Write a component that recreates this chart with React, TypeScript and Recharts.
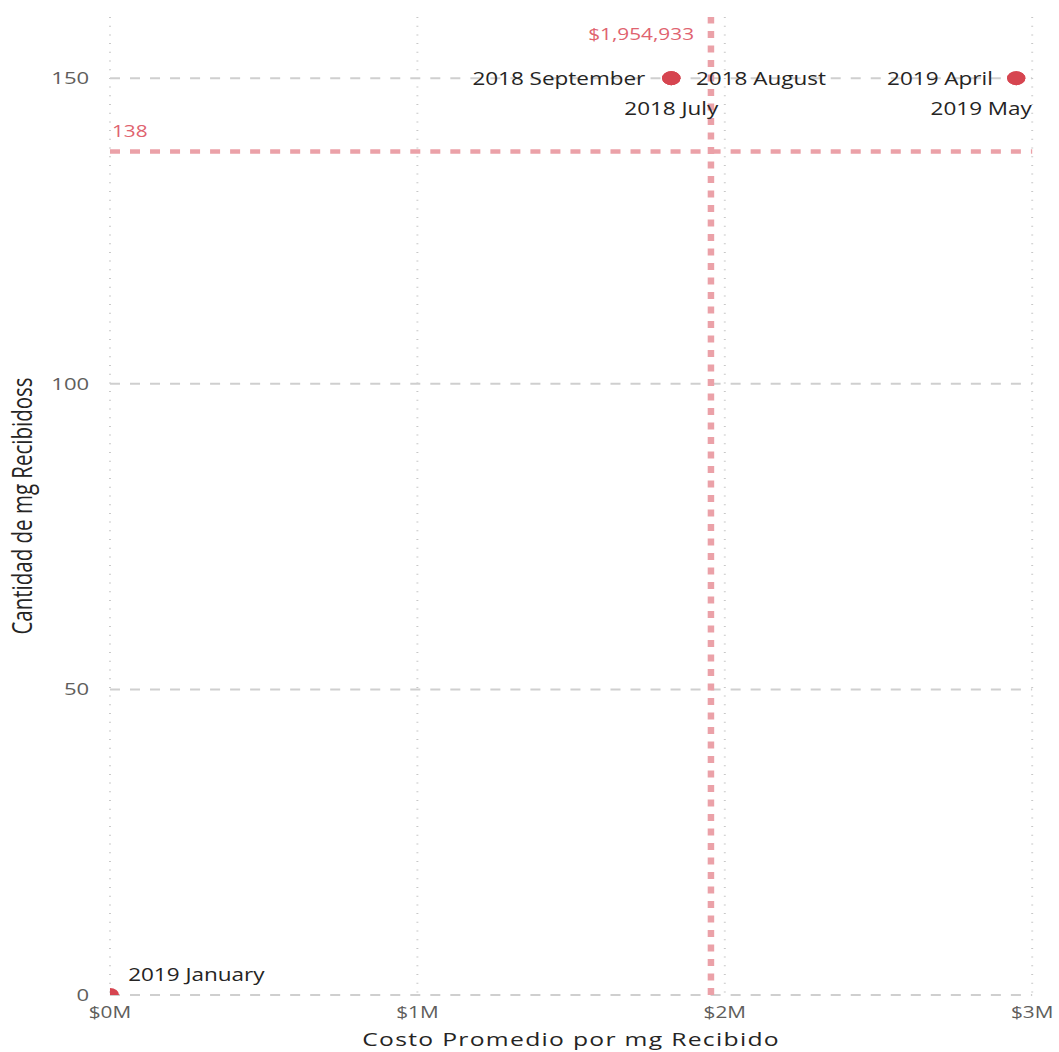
import React from "react";
import {
  ScatterChart,
  Scatter,
  XAxis,
  YAxis,
  CartesianGrid,
  ReferenceLine,
} from "recharts";

const MONTHS = ["2018 July", "2018 August", "2018 September", "2019 January", "2019 April", "2019 May"];
const AVG_COST = [1826000, 1826000, 1826000, 0, 2948000, 2948000];
const QTY_RECEIVED = [150, 150, 150, 0, 150, 150];

const X_TICKS = [0, 1000000, 2000000, 3000000];
const Y_TICKS = [0, 50, 100, 150];

const AVG_COST_LINE = 1954933;
const AVG_QTY_LINE = 138;

// where each month's data label sits around its dot
const LABEL_PLACE: Record<string, { anchor: "start" | "middle" | "end"; dx: number; dy: number }> = {
  "2018 July": { anchor: "middle", dx: 0, dy: 30 },
  "2018 August": { anchor: "start", dx: 19, dy: 0 },
  "2018 September": { anchor: "end", dx: -20, dy: 0 },
  "2019 January": { anchor: "start", dx: 14, dy: -20 },
  "2019 April": { anchor: "end", dx: -18, dy: 0 },
  "2019 May": { anchor: "end", dx: 12, dy: 30 },
};

const points = MONTHS.map((m, i) => ({ month: m, cost: AVG_COST[i], qty: QTY_RECEIVED[i] }));

const FONT = "'Open Sans', sans-serif";
const RED = "#D64550";
const REF_RED = "#EBA1A8";
const REF_TEXT = "#E0636F";

// the source screenshot is stretched horizontally
const STRETCH = 1.3;
const W = 815;
const H = 1052;

function renderPoint(props: any) {
  const { cx, cy, payload } = props;
  const p = LABEL_PLACE[payload.month];
  return (
    <g>
      <circle cx={cx} cy={cy} r={7} fill={RED} />
      <text
        x={cx + p.dx}
        y={cy + p.dy}
        textAnchor={p.anchor}
        dominantBaseline="central"
        fontSize={17.3}
        fontFamily={FONT}
        fill="#252423"
      >
        {payload.month}
      </text>
    </g>
  );
}

function CostLineLabel(props: any) {
  const { viewBox } = props;
  return (
    <text
      x={viewBox.x - 13}
      y={viewBox.y + 17}
      textAnchor="end"
      dominantBaseline="central"
      fontSize={16}
      fontFamily={FONT}
      fill={REF_TEXT}
    >
      ${AVG_COST_LINE.toLocaleString("en-US")}
    </text>
  );
}

function QtyLineLabel(props: any) {
  const { viewBox } = props;
  return (
    <text
      x={viewBox.x + 1.5}
      y={viewBox.y - 21}
      textAnchor="start"
      dominantBaseline="central"
      fontSize={16}
      fontFamily={FONT}
      fill={REF_TEXT}
    >
      {AVG_QTY_LINE}
    </text>
  );
}

export default function App() {
  return (
    <div
      style={{
        position: "absolute",
        left: 0,
        top: 0,
        width: W,
        height: H,
        background: "#fff",
        transform: `scaleX(${STRETCH})`,
        transformOrigin: "0 0",
      }}
    >
      <ScatterChart width={W} height={H} margin={{ top: 17, right: 21, bottom: 0, left: 0 }}>
        <CartesianGrid
          horizontal={false}
          syncWithTicks
          stroke="#c8c8c8"
          strokeWidth={1.5}
          strokeDasharray="1 7.7"
        />
        <CartesianGrid
          vertical={false}
          syncWithTicks
          stroke="#cfcfcf"
          strokeWidth={2}
          strokeDasharray="7.7 7.7"
        />
        <XAxis
          type="number"
          dataKey="cost"
          domain={[0, 3000000]}
          ticks={X_TICKS}
          allowDataOverflow
          axisLine={false}
          tickLine={false}
          tickMargin={6}
          height={57}
          tick={{ fontSize: 16, fill: "#605E5C", fontFamily: FONT }}
          tickFormatter={(v: number) => `$${v / 1000000}M`}
          label={{
            value: "Costo Promedio por mg Recibido",
            position: "insideBottom",
            offset: 6,
            fontSize: 19,
            fill: "#252423",
            fontFamily: FONT,
            letterSpacing: 1,
          }}
        />
        <YAxis
          type="number"
          dataKey="qty"
          domain={[0, 160]}
          ticks={Y_TICKS}
          allowDataOverflow
          axisLine={false}
          tickLine={false}
          tickMargin={10}
          width={84.6}
          tick={{ fontSize: 17, fill: "#605E5C", fontFamily: FONT }}
          label={{
            value: "Cantidad de mg Recibidoss",
            angle: -90,
            position: "insideLeft",
            offset: 17,
            style: { textAnchor: "middle" },
            fontSize: 20.5,
            fill: "#252423",
            fontFamily: FONT,
          }}
        />
        <ReferenceLine
          x={AVG_COST_LINE}
          stroke={REF_RED}
          strokeWidth={5}
          strokeDasharray="7 7.5"
          label={<CostLineLabel />}
        />
        <ReferenceLine
          y={AVG_QTY_LINE}
          stroke={REF_RED}
          strokeWidth={4.7}
          strokeDasharray="7.7 7.7"
          label={<QtyLineLabel />}
        />
        <Scatter data={points} shape={renderPoint} isAnimationActive={false} />
      </ScatterChart>
    </div>
  );
}
